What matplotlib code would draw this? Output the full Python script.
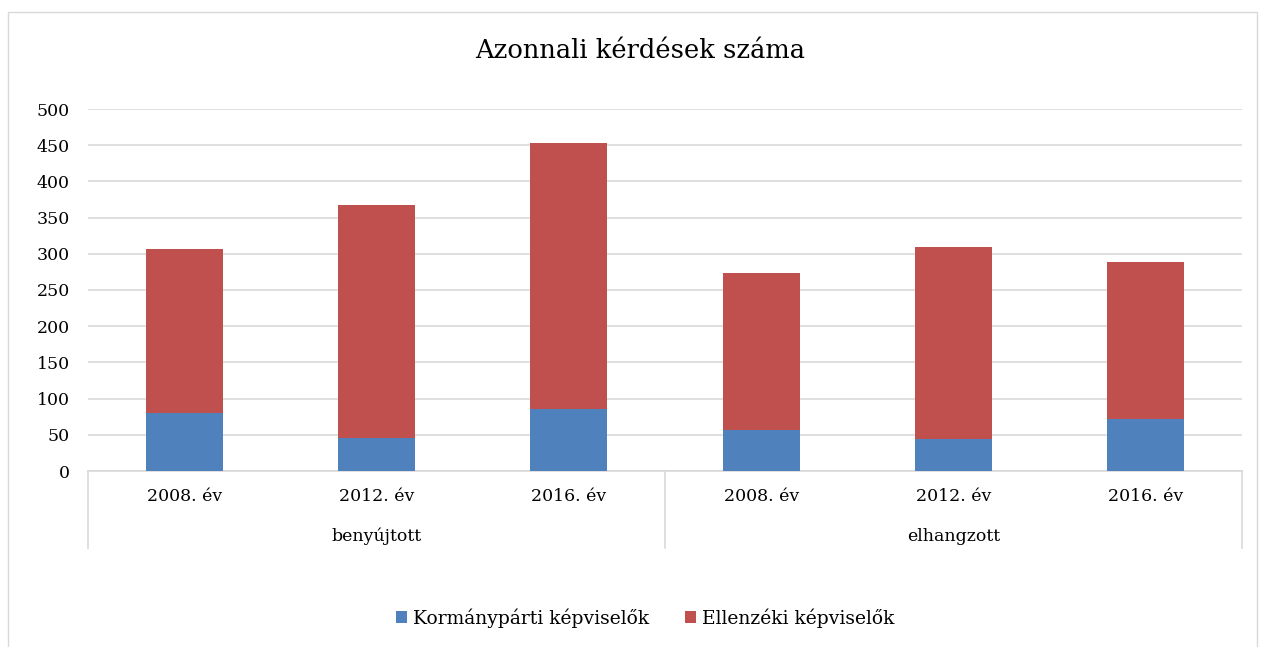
import matplotlib.pyplot as plt
from matplotlib.patches import Rectangle

W, H = 1263, 647

groups = ['benyújtott', 'elhangzott']
years = ['2008. év', '2012. év', '2016. év']
kormany = [80, 46, 85, 57, 44, 72]
ellenzeki_total = [307, 368, 453, 273, 310, 288]
ellenzeki = [t - k for t, k in zip(ellenzeki_total, kormany)]

BLUE = '#4f81bd'
RED = '#c0504d'
GRID = '#d9d9d9'

plt.rcParams['font.family'] = ['DejaVu Serif']

fig = plt.figure(figsize=(W / 100, H / 100), dpi=100)

# outer chart border (bottom edge falls outside the image)
fig.patches.append(Rectangle((8 / W, -0.05), (1257 - 8) / W, 1.05 - 12 / H,
                             transform=fig.transFigure, fill=False,
                             edgecolor=GRID, linewidth=1))

ax = fig.add_axes([88 / W, (H - 471) / H, (1242 - 88) / W, (471 - 109) / H])

x = list(range(len(kormany)))
ax.bar(x, kormany, width=0.4, color=BLUE, label='Kormánypárti képviselők', zorder=3)
ax.bar(x, ellenzeki, width=0.4, bottom=kormany, color=RED,
       label='Ellenzéki képviselők', zorder=3)

ax.set_xlim(-0.5, len(kormany) - 0.5)
ax.set_ylim(0, 500)
ax.set_yticks(range(0, 501, 50))
ax.yaxis.grid(True, color=GRID, linewidth=1.2, zorder=0)
ax.tick_params(axis='y', length=0, pad=13, labelsize=12.5)
ax.set_xticks([])
for s in ['left', 'right', 'top']:
    ax.spines[s].set_visible(False)
ax.spines['bottom'].set_color(GRID)
ax.spines['bottom'].set_linewidth(1.2)

# two-level category axis
tr = ax.get_xaxis_transform()
for i, y in enumerate(years * len(groups)):
    ax.text(i, -0.07, y, transform=tr, ha='center', va='center', fontsize=12.5)
for g, name in enumerate(groups):
    ax.text(g * 3 + 1, -0.18, name, transform=tr, ha='center', va='center', fontsize=12.5)
for xs in [-0.5, 2.5, 5.5]:
    ax.plot([xs, xs], [0, -0.213], transform=tr, color=GRID, linewidth=1.2, clip_on=False)

fig.text(640 / W, 1 - 50 / H, 'Azonnali kérdések száma', ha='center', va='center', fontsize=18.5)

fig.legend(loc='center', bbox_to_anchor=(645 / W, 1 - 618 / H), ncol=2, frameon=False,
           fontsize=13.5, handlelength=0.6, handleheight=0.6, columnspacing=1.9, handletextpad=0.3)

fig.savefig('out.png', dpi=100)
